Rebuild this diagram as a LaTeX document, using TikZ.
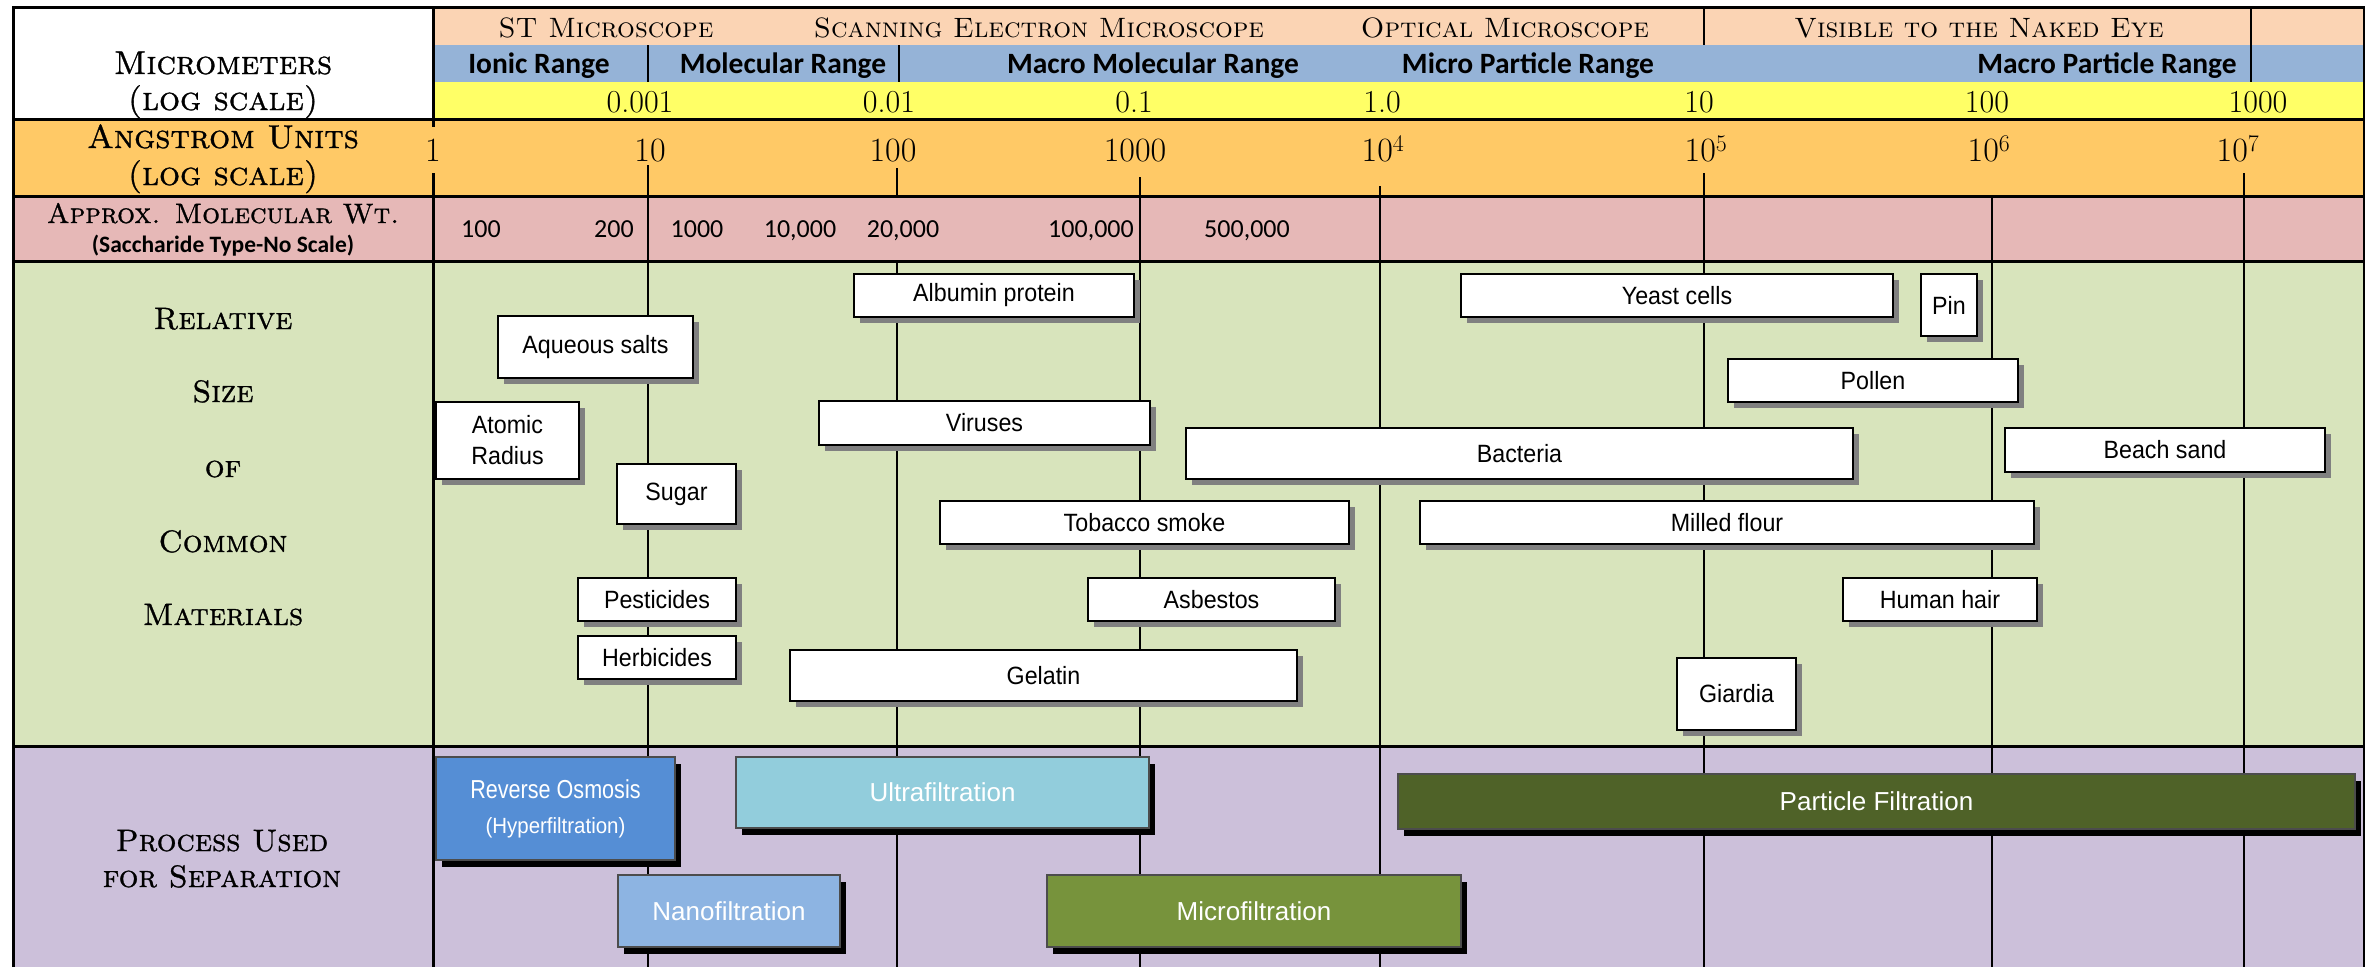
\documentclass[tikz,border=0pt]{standalone}
\usepackage{fontspec}
\usepackage{tikz}
\usetikzlibrary{shadows}
\newfontfamily\arialfont{Liberation Sans}
\newfontfamily\narrowfont{Liberation Sans}[FakeStretch=0.93]
\newfontfamily\calibrifont{Carlito}
\newfontfamily\titlefont{lmroman10-regular.otf}[SmallCapsFont=lmromancaps10-regular.otf,FakeBold=1,SmallCapsFeatures={FakeBold=1}]
\definecolor{peach}{HTML}{FBD4B4}
\definecolor{rangeblue}{HTML}{95B3D7}
\definecolor{umyellow}{HTML}{FFFF66}
\definecolor{angorange}{HTML}{FFC966}
\definecolor{mwpink}{HTML}{E6B8B7}
\definecolor{sizegreen}{HTML}{D8E4BC}
\definecolor{procpurple}{HTML}{CCC0DA}
\definecolor{roblue}{HTML}{558ED5}
\definecolor{ufcyan}{HTML}{92CDDC}
\definecolor{nfblue}{HTML}{8DB4E2}
\definecolor{mfgreen}{HTML}{77933C}
\definecolor{pfgreen}{HTML}{4F6228}
\tikzstyle{matbox}=[draw,fill=white,line width=2pt,inner sep=0pt,align=center,font=\narrowfont\fontsize{25}{31}\selectfont,drop shadow={shadow xshift=6pt,shadow yshift=-6pt,fill=black!50,opacity=1}]
\tikzstyle{procbox}=[draw=black!70,line width=1.5pt,inner sep=0pt,align=center,text=white,font=\arialfont\fontsize{26}{35}\selectfont,drop shadow={shadow xshift=6pt,shadow yshift=-7pt,fill=black,opacity=1}]
\tikzstyle{rowtitle}=[anchor=base,font=\titlefont\fontsize{33}{36}\selectfont\scshape]
\tikzstyle{sizetitle}=[anchor=base,font=\titlefont\fontsize{31}{36}\selectfont\scshape]
\tikzstyle{scopelabel}=[anchor=base,font=\fontsize{28}{32}\selectfont\scshape]
\tikzstyle{rangelabel}=[anchor=base,font=\calibrifont\bfseries\fontsize{29.5}{33}\selectfont]
\tikzstyle{umlabel}=[anchor=base,font=\fontsize{32}{36}\selectfont]
\tikzstyle{anglabel}=[anchor=base,font=\fontsize{34}{38}\selectfont]
\tikzstyle{mwlabel}=[anchor=base,font=\calibrifont\fontsize{26}{30}\selectfont]
\tikzstyle{gridline}=[line width=1.5pt]
\tikzstyle{rowrule}=[line width=3pt]

\begin{document}
\begin{tikzpicture}[x=1pt,y=-1pt]
   \useasboundingbox (0,0) rectangle (2365,967);

   % row backgrounds
   \fill[white] (0,0) rectangle (2365,967);
   \fill[peach] (433,7) rectangle (2364,45);
   \fill[rangeblue] (433,45) rectangle (2364,82);
   \fill[umyellow] (433,82) rectangle (2364,119);
   \fill[angorange] (13,119) rectangle (2364,196);
   \fill[mwpink] (13,196) rectangle (2364,261);
   \fill[sizegreen] (13,261) rectangle (2364,746);
   \fill[procpurple] (13,746) rectangle (2364,967);

   \foreach \x/\ytop in {648/165, 1140/177, 1380/186, 1704/173, 1992/196, 2244/173}
       \draw[gridline] (\x,\ytop) -- (\x,967);
   \foreach \x/\ya/\yb in {648/45/82, 899/45/82, 1704/7/45, 2251/7/82, 897/168/196, 897/261/967}
       \draw[gridline] (\x,\ya) -- (\x,\yb);

   \draw[rowrule] (13,967) -- (13,7) -- (2364,7) -- (2364,967);
   \draw[rowrule] (433,7) -- (433,967);
   \foreach \y in {119,196,261,746}
       \draw[rowrule] (13,\y) -- (2364,\y);

   % left column
   \foreach \pos/ \name / \label in {{(223,74)/tMicro/Micrometers}, {(223,110)/tMicroLog/(log scale)},
       {(223,148)/tAng/Angstrom Units}, {(223,185)/tAngLog/(log scale)}}
       \node[rowtitle] (\name) at \pos {\label};
   \node[rowtitle,font=\titlefont\fontsize{28}{32}\selectfont\scshape] (tMolWt) at (223,223) {Approx. Molecular Wt.};
   \node[anchor=base,font=\calibrifont\bfseries\fontsize{23.5}{27}\selectfont] (tSacch) at (223,252) {(Saccharide Type-No Scale)};
   \foreach \pos/ \name / \label in {{(223,329)/tRel/Relative}, {(223,402)/tSize/Size}, {(223,477)/tOf/of},
       {(223,552)/tCommon/Common}, {(223,625)/tMat/Materials}, {(222,851)/tProc/Process Used}, {(222,887)/tSep/for Separation}}
       \node[sizetitle] (\name) at \pos {\label};

   % header rows
   \foreach \pos/ \name / \label in {{(606,37)/scST/ST Microscope}, {(1039,37)/scSEM/Scanning Electron Microscope},
       {(1505,37)/scOpt/Optical Microscope}, {(1979,37)/scEye/Visible to the Naked Eye}}
       \node[scopelabel] (\name) at \pos {\label};
   \foreach \pos/ \name / \label in {{(539,73)/rIonic/Ionic Range}, {(783,73)/rMol/Molecular Range},
       {(1153,73)/rMacroMol/Macro Molecular Range}, {(1528,73)/rMicroPart/Micro Particle Range},
       {(2107,73)/rMacroPart/Macro Particle Range}}
       \node[rangelabel] (\name) at \pos {\label};
   \foreach \pos/ \name / \label in {{(640,112)/um1/0.001}, {(889,112)/um2/0.01}, {(1134,112)/um3/0.1},
       {(1382,112)/um4/1.0}, {(1699,112)/um5/10}, {(1987,112)/um6/100}, {(2258,112)/um7/1000}}
       \node[umlabel] (\name) at \pos {\label};
   \node[anglabel,fill=angorange,inner ysep=12pt] (ang0) at (433,161) {1};
   \foreach \pos/ \name / \label in {{(650,161)/ang1/10}, {(893,161)/ang2/100}, {(1135,161)/ang3/1000},
       {(1383,161)/ang4/10\textsuperscript{4}}, {(1706,161)/ang5/10\textsuperscript{5}},
       {(1989,161)/ang6/10\textsuperscript{6}}, {(2238,161)/ang7/10\textsuperscript{7}}}
       \node[anglabel] (\name) at \pos {\label};
   \foreach \pos/ \name / \label in {{(481,237)/mw1/100}, {(614,237)/mw2/200}, {(697,237)/mw3/1000},
       {(800,237)/mw4/10,000}, {(903,237)/mw5/20,000}, {(1091,237)/mw6/100,000}, {(1247,237)/mw7/500,000}}
       \node[mwlabel] (\name) at \pos {\label};

   % relative size boxes
   \foreach \pos/ \w / \h / \name / \label in {{(994,295.5)/280/43/albumin/Albumin protein},
       {(595.5,347)/195/62/salts/Aqueous salts}, {(507.5,440.5)/143/77/atomic/Atomic\\Radius},
       {(984.5,423)/331/44/viruses/Viruses}, {(1519.5,453.5)/667/51/bacteria/Bacteria},
       {(676.5,494)/119/60/sugar/Sugar}, {(1144.5,522.5)/409/43/tobacco/Tobacco smoke},
       {(657,599.5)/158/43/pesticides/Pesticides}, {(1211.5,599.5)/247/43/asbestos/Asbestos},
       {(657,657.5)/158/43/herbicides/Herbicides}, {(1043.5,675.5)/507/51/gelatin/Gelatin},
       {(1677,295.5)/432/43/yeast/Yeast cells}, {(1949,305)/56/62/pin/Pin},
       {(1873,380.5)/290/43/pollen/Pollen}, {(2165,450)/320/44/sand/Beach sand},
       {(1727,522.5)/614/43/flour/Milled flour}, {(1940,599.5)/194/43/hair/Human hair},
       {(1736.5,694)/119/72/giardia/Giardia}}
       \node[matbox,minimum width=\w pt,minimum height=\h pt] (\name) at \pos {\label};

   % separation processes
   \foreach \pos/ \w / \h / \col / \name / \label in {{(555.5,808.5)/239/103/roblue/ro/{\addfontfeature{FakeStretch=0.83}Reverse Osmosis}\\{\addfontfeature{FakeStretch=0.93}\fontsize{22}{26}\selectfont(Hyperfiltration)}},
       {(942.5,792.5)/413/71/ufcyan/uf/Ultrafiltration}, {(729,911)/222/72/nfblue/nf/Nanofiltration},
       {(1254,911)/414/72/mfgreen/mf/Microfiltration}, {(1876.5,801.5)/957/55/pfgreen/pf/Particle Filtration}}
       \node[procbox,fill=\col,minimum width=\w pt,minimum height=\h pt] (\name) at \pos {\label};
\end{tikzpicture}
\end{document}
